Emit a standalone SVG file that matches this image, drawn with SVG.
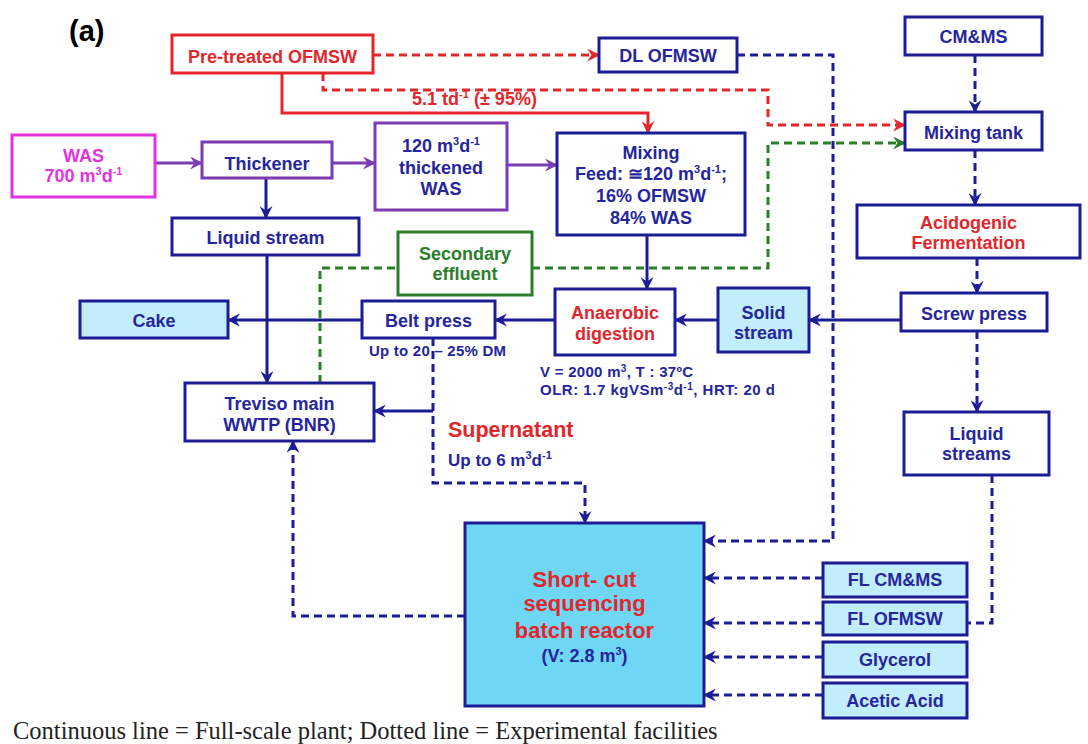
<svg xmlns="http://www.w3.org/2000/svg" width="1088" height="744" viewBox="0 0 1088 744">
  <defs>
    <marker id="ah-navy" viewBox="0 0 12 12" refX="11" refY="6" markerWidth="13" markerHeight="13" markerUnits="userSpaceOnUse" orient="auto">
      <path d="M0,0 L12,6 L0,12 L4,6 Z" fill="#1c1c94"/>
    </marker>
    <marker id="ah-red" viewBox="0 0 12 12" refX="11" refY="6" markerWidth="13" markerHeight="13" markerUnits="userSpaceOnUse" orient="auto">
      <path d="M0,0 L12,6 L0,12 L4,6 Z" fill="#e3262b"/>
    </marker>
    <marker id="ah-purple" viewBox="0 0 12 12" refX="11" refY="6" markerWidth="13" markerHeight="13" markerUnits="userSpaceOnUse" orient="auto">
      <path d="M0,0 L12,6 L0,12 L4,6 Z" fill="#7a3db3"/>
    </marker>
    <marker id="ah-green" viewBox="0 0 12 12" refX="11" refY="6" markerWidth="13" markerHeight="13" markerUnits="userSpaceOnUse" orient="auto">
      <path d="M0,0 L12,6 L0,12 L4,6 Z" fill="#2b7f2b"/>
    </marker>
  </defs>
  <style>
    .box { fill: #ffffff; stroke: #1c1c94; stroke-width: 3; }
    .box-red { fill: #ffffff; stroke: #e3262b; stroke-width: 3; }
    .box-purple { fill: #ffffff; stroke: #7a3db3; stroke-width: 3; }
    .box-mag { fill: #ffffff; stroke: #e233e0; stroke-width: 3; }
    .box-green { fill: #ffffff; stroke: #2b7f2b; stroke-width: 3; }
    .box-cyan { fill: #c2eefb; stroke: #1c1c94; stroke-width: 3; }
    .box-sbr { fill: #6fd6f4; stroke: #1c1c94; stroke-width: 3; }
    text { font-family: "Liberation Sans", Arial, sans-serif; font-weight: bold; }
    .t { font-size: 18px; fill: #25259c; text-anchor: middle; }
    .t-red { font-size: 18px; fill: #e3262b; text-anchor: middle; }
    .t-mag { font-size: 18px; fill: #e233e0; text-anchor: middle; }
    .t-green { font-size: 18px; fill: #2b7f2b; text-anchor: middle; }
    .t-sbr { font-size: 22px; fill: #e3262b; text-anchor: middle; }
    .t-vol { font-size: 18px; fill: #25259c; text-anchor: middle; }
    .note { font-size: 15px; fill: #25259c; }
    .caption { font-family: "Liberation Serif", "Times New Roman", serif; font-weight: normal; font-size: 24.5px; fill: #222222; }
    .ln { fill: none; stroke-width: 3; }
    .solid-navy { stroke: #1c1c94; }
    .solid-purple { stroke: #7a3db3; }
    .solid-red { stroke: #e3262b; }
    .dash-navy { stroke: #1c1c94; stroke-dasharray: 8 5; }
    .dash-red { stroke: #e3262b; stroke-dasharray: 8 5; }
    .dash-green { stroke: #2b7f2b; stroke-dasharray: 8 5; }
  </style>

  <rect width="1088" height="744" fill="#ffffff"/>

  <!-- connectors -->
  <g id="connectors">
    <!-- full-scale plant (solid) -->
    <path class="ln solid-purple" d="M155,163 H202" marker-end="url(#ah-purple)"/>
    <path class="ln solid-purple" d="M332,163 H375" marker-end="url(#ah-purple)"/>
    <path class="ln solid-purple" d="M507,165 H557" marker-end="url(#ah-purple)"/>
    <path class="ln solid-red" d="M282,73 V113 H648 V133" marker-end="url(#ah-red)"/>
    <path class="ln solid-navy" d="M266,178 V218" marker-end="url(#ah-navy)"/>
    <path class="ln solid-navy" d="M267,255 V383" marker-end="url(#ah-navy)"/>
    <path class="ln solid-navy" d="M647,235 V289" marker-end="url(#ah-navy)"/>
    <path class="ln solid-navy" d="M718,320 H675" marker-end="url(#ah-navy)"/>
    <path class="ln solid-navy" d="M555,320 H495" marker-end="url(#ah-navy)"/>
    <path class="ln solid-navy" d="M362,320 H228" marker-end="url(#ah-navy)"/>
    <path class="ln solid-navy" d="M901,320 H809" marker-end="url(#ah-navy)"/>
    <path class="ln solid-navy" d="M433,411 H374" marker-end="url(#ah-navy)"/>

    <!-- experimental facilities (dashed) -->
    <path class="ln dash-red" d="M373,55 H599" marker-end="url(#ah-red)"/>
    <path class="ln dash-red" d="M323,73 V90 H768 V125 H905" marker-end="url(#ah-red)"/>
    <path class="ln dash-green" d="M320,383 V268 H398"/>
    <path class="ln dash-green" d="M532,268 H768 V143 H905" marker-end="url(#ah-green)"/>
    <path class="ln dash-navy" d="M737,55 H833 V541 H704" marker-end="url(#ah-navy)"/>
    <path class="ln dash-navy" d="M975,55 V112" marker-end="url(#ah-navy)"/>
    <path class="ln dash-navy" d="M975,150 V205" marker-end="url(#ah-navy)"/>
    <path class="ln dash-navy" d="M977,258 V293" marker-end="url(#ah-navy)"/>
    <path class="ln dash-navy" d="M977,331 V412" marker-end="url(#ah-navy)"/>
    <path class="ln dash-navy" d="M992,475 V623 H967"/>
    <path class="ln dash-navy" d="M823,578 H704" marker-end="url(#ah-navy)"/>
    <path class="ln dash-navy" d="M823,623 H704" marker-end="url(#ah-navy)"/>
    <path class="ln dash-navy" d="M823,657 H704" marker-end="url(#ah-navy)"/>
    <path class="ln dash-navy" d="M823,695 H704" marker-end="url(#ah-navy)"/>
    <path class="ln dash-navy" d="M433,338 V483 H585 V523" marker-end="url(#ah-navy)"/>
    <path class="ln dash-navy" d="M465,616 H293 V441" marker-end="url(#ah-navy)"/>
  </g>

  <!-- nodes -->
  <g id="pretreated-ofmsw">
    <rect class="box-red" x="172" y="35" width="201" height="38"/>
    <text class="t-red" x="272.5" y="63">Pre-treated OFMSW</text>
  </g>
  <g id="dl-ofmsw">
    <rect class="box" x="599" y="38" width="138" height="34"/>
    <text class="t" x="668" y="61.5">DL OFMSW</text>
  </g>
  <g id="cm-ms">
    <rect class="box" x="905" y="17" width="137" height="38"/>
    <text class="t" x="973.5" y="42.5">CM&amp;MS</text>
  </g>
  <g id="mixing-tank">
    <rect class="box" x="905" y="112" width="137" height="38"/>
    <text class="t" x="973.5" y="138.5">Mixing tank</text>
  </g>
  <g id="acidogenic-fermentation">
    <rect class="box" x="857" y="205" width="223" height="53"/>
    <text class="t-red" x="968.5" y="228.5">Acidogenic</text>
    <text class="t-red" x="968.5" y="248.5">Fermentation</text>
  </g>
  <g id="screw-press">
    <rect class="box" x="901" y="293" width="146" height="38"/>
    <text class="t" x="974" y="319.5">Screw press</text>
  </g>
  <g id="liquid-streams">
    <rect class="box" x="904" y="412" width="145" height="63"/>
    <text class="t" x="976.5" y="439.5">Liquid</text>
    <text class="t" x="976.5" y="459.5">streams</text>
  </g>
  <g id="was">
    <rect class="box-mag" x="12" y="135" width="143" height="62"/>
    <text class="t-mag" x="83.5" y="161.5">WAS</text>
    <text class="t-mag" x="83.5" y="182">700 m<tspan font-size="11" dy="-7">3</tspan><tspan dy="7">d</tspan><tspan font-size="11" dy="-7">-1</tspan></text>
  </g>
  <g id="thickener">
    <rect class="box-purple" x="202" y="142" width="130" height="36"/>
    <text class="t" x="267" y="169.5">Thickener</text>
  </g>
  <g id="thickened-was">
    <rect class="box-purple" x="375" y="123" width="132" height="87"/>
    <text class="t" x="441" y="152">120 m<tspan font-size="11" dy="-7">3</tspan><tspan dy="7">d</tspan><tspan font-size="11" dy="-7">-1</tspan></text>
    <text class="t" x="441" y="173.5">thickened</text>
    <text class="t" x="441" y="194.5">WAS</text>
  </g>
  <g id="mixing">
    <rect class="box" x="557" y="133" width="188" height="102"/>
    <text class="t" x="651" y="158.5">Mixing</text>
    <text class="t" x="651" y="180">Feed: ≅120 m<tspan font-size="11" dy="-7">3</tspan><tspan dy="7">d</tspan><tspan font-size="11" dy="-7">-1</tspan><tspan dy="7">;</tspan></text>
    <text class="t" x="651" y="201.5">16% OFMSW</text>
    <text class="t" x="651" y="223.5">84% WAS</text>
  </g>
  <g id="liquid-stream">
    <rect class="box" x="172" y="218" width="187" height="37"/>
    <text class="t" x="265.5" y="243.5">Liquid stream</text>
  </g>
  <g id="secondary-effluent">
    <rect class="box-green" x="398" y="232" width="134" height="63"/>
    <text class="t-green" x="465" y="259.5">Secondary</text>
    <text class="t-green" x="465" y="279.5">effluent</text>
  </g>
  <g id="cake">
    <rect class="box-cyan" x="80" y="301" width="148" height="37"/>
    <text class="t" x="154" y="326.5">Cake</text>
  </g>
  <g id="belt-press">
    <rect class="box" x="362" y="301" width="133" height="37"/>
    <text class="t" x="428.5" y="326.5">Belt press</text>
  </g>
  <g id="anaerobic-digestion">
    <rect class="box" x="555" y="289" width="120" height="66"/>
    <text class="t-red" x="615" y="318.5">Anaerobic</text>
    <text class="t-red" x="615" y="339.5">digestion</text>
  </g>
  <g id="solid-stream">
    <rect class="box-cyan" x="718" y="288" width="91" height="64"/>
    <text class="t" x="763.5" y="318.5">Solid</text>
    <text class="t" x="763.5" y="338.5">stream</text>
  </g>
  <g id="treviso-wwtp">
    <rect class="box" x="185" y="383" width="189" height="58"/>
    <text class="t" x="279.5" y="409.5">Treviso main</text>
    <text class="t" x="279.5" y="430.5">WWTP (BNR)</text>
  </g>
  <g id="sbr">
    <rect class="box-sbr" x="465" y="523" width="239" height="183"/>
    <text class="t-sbr" x="584.5" y="587">Short- cut</text>
    <text class="t-sbr" x="584.5" y="611">sequencing</text>
    <text class="t-sbr" x="584.5" y="638">batch reactor</text>
    <text class="t-vol" x="584.5" y="662">(V: 2.8 m<tspan font-size="11" dy="-7">3</tspan><tspan dy="7">)</tspan></text>
  </g>
  <g id="fl-cm-ms">
    <rect class="box-cyan" x="823" y="563" width="144" height="34"/>
    <text class="t" x="895" y="586">FL CM&amp;MS</text>
  </g>
  <g id="fl-ofmsw">
    <rect class="box-cyan" x="823" y="602" width="144" height="33"/>
    <text class="t" x="895" y="625">FL OFMSW</text>
  </g>
  <g id="glycerol">
    <rect class="box-cyan" x="823" y="642" width="144" height="35"/>
    <text class="t" x="895" y="666">Glycerol</text>
  </g>
  <g id="acetic-acid">
    <rect class="box-cyan" x="823" y="683" width="144" height="35"/>
    <text class="t" x="895" y="707">Acetic Acid</text>
  </g>

  <!-- free labels -->
  <text x="69" y="41" font-size="29" fill="#000000">(a)</text>
  <text x="412" y="105" font-size="18" fill="#e3262b" textLength="125" lengthAdjust="spacingAndGlyphs">5.1 td<tspan font-size="11" dy="-7">-1</tspan><tspan dy="7"> (± 95%)</tspan></text>
  <text class="note" x="369" y="356" textLength="137" lengthAdjust="spacing">Up to 20 – 25% DM</text>
  <text class="note" x="540" y="377" textLength="153" lengthAdjust="spacing">V = 2000 m<tspan font-size="10" dy="-5">3</tspan><tspan dy="5">, T : 37ºC</tspan></text>
  <text class="note" x="540" y="395" textLength="235" lengthAdjust="spacing">OLR: 1.7 kgVSm<tspan font-size="10" dy="-5">-3</tspan><tspan dy="5">d</tspan><tspan font-size="10" dy="-5">-1</tspan><tspan dy="5">, HRT:  20 d</tspan></text>
  <text x="448" y="437" font-size="21.5" fill="#e3262b">Supernatant</text>
  <text x="448" y="466" font-size="17" fill="#25259c">Up to 6 m<tspan font-size="11" dy="-7">3</tspan><tspan dy="7">d</tspan><tspan font-size="11" dy="-7">-1</tspan></text>
  <text class="caption" x="13" y="739">Continuous line = Full-scale plant; Dotted line = Experimental facilities</text>
</svg>
